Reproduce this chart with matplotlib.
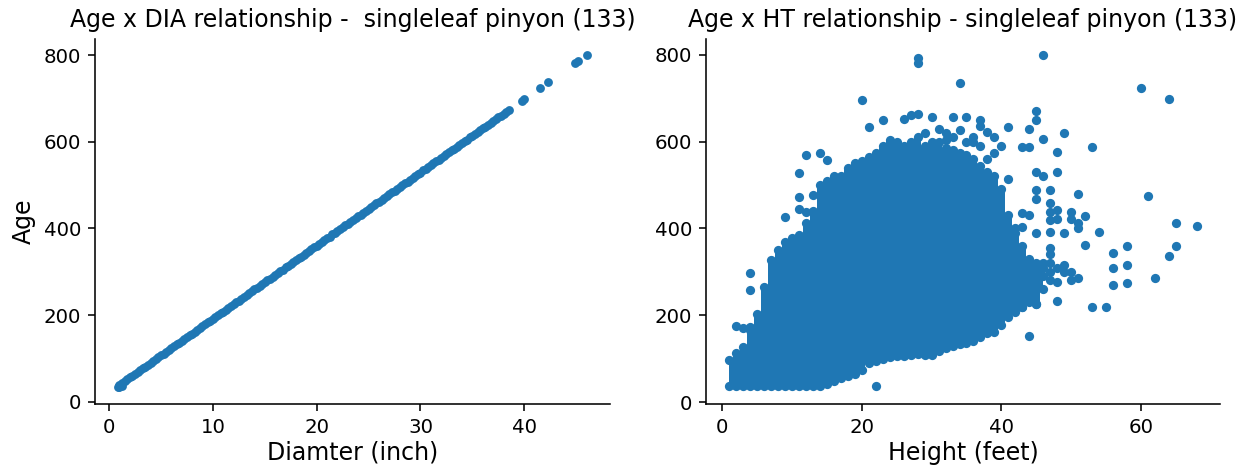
"""
Age vs diameter / height scatter for singleleaf pinyon (133)
"""
import matplotlib
matplotlib.use('Agg')
import matplotlib.pyplot as plt

BLUE = '#1f77b4'
DPI = 142

# --- left panel: diameter (inch) vs age ---
dia_vals = [1.0, 1.25, 1.5, 1.75, 2.0, 2.25, 2.5, 2.75, 3.0, 3.25, 3.5, 3.75, 4.0, 4.25, 4.5, 4.75,
            5.0, 5.25, 5.5, 5.75, 6.0, 6.25, 6.5, 6.75, 7.0, 7.25, 7.5, 7.75, 8.0, 8.25, 8.5, 8.75,
            9.0, 9.25, 9.5, 9.75, 10.0, 10.25, 10.5, 10.75, 11.0, 11.25, 11.5, 11.75, 12.0, 12.25, 12.5, 12.75,
            13.0, 13.25, 13.5, 13.75, 14.0, 14.25, 14.5, 14.75, 15.0, 15.25, 15.5, 15.75, 16.0, 16.25, 16.5, 16.75,
            17.0, 17.25, 17.5, 17.75, 18.0, 18.25, 18.5, 18.75, 19.0, 19.25, 19.5, 19.75, 20.0, 20.25, 20.5, 20.75,
            21.0, 21.25, 21.5, 21.75, 22.0, 22.25, 22.5, 22.75, 23.0, 23.25, 23.5, 23.75, 24.0, 24.25, 24.5, 24.75,
            25.0, 25.25, 25.5, 25.75, 26.0, 26.25, 26.5, 26.75, 27.0, 27.25, 27.5, 27.75, 28.0, 28.25, 28.5, 28.75,
            29.0, 29.25, 29.5, 29.75, 30.0, 30.25, 30.5, 30.75, 31.0, 31.25, 31.5, 31.75, 32.0, 32.25, 32.5, 32.75,
            33.0, 33.25, 33.5, 33.75, 34.0, 34.25, 34.5, 34.75, 35.0, 35.25, 35.5, 35.75, 36.0, 36.25, 36.5, 36.75,
            37.0, 37.25, 37.5, 37.75, 38.0, 38.25, 38.5,
            0.9, 1.0, 1.2, 39.8, 40.0, 41.5, 42.3, 44.9, 45.2, 46.0]
dia_ages = [39, 43, 47, 52, 56, 60, 64, 69, 73, 77, 81, 85, 90, 94, 98, 102,
            107, 111, 115, 119, 124, 128, 132, 136, 140, 145, 149, 153, 157, 162, 166, 170,
            174, 179, 183, 187, 191, 195, 200, 204, 208, 212, 217, 221, 225, 229, 233, 238,
            242, 246, 250, 255, 259, 263, 267, 272, 276, 280, 284, 288, 293, 297, 301, 305,
            310, 314, 318, 322, 327, 331, 335, 339, 343, 348, 352, 356, 360, 365, 369, 373,
            377, 381, 386, 390, 394, 398, 403, 407, 411, 415, 419, 424, 428, 432, 436, 441,
            445, 449, 453, 458, 462, 466, 470, 474, 479, 483, 487, 491, 496, 500, 504, 508,
            512, 517, 521, 525, 529, 534, 538, 542, 546, 551, 555, 559, 563, 567, 572, 576,
            580, 584, 589, 593, 597, 601, 605, 610, 614, 618, 622, 627, 631, 635, 639, 644,
            648, 652, 656, 660, 665, 669, 673,
            33, 33, 36, 693, 698, 724, 737, 781, 787, 800]

# --- right panel: height (feet) vs age ---
# dense part of the cloud, one column per height: lowest and highest age
ht_cols = [1, 2, 3, 4, 5, 6, 7, 8, 9, 10, 11, 12, 13, 14, 15, 16, 17, 18, 19, 20,
           21, 22, 23, 24, 25, 26, 27, 28, 29, 30, 31, 32, 33, 34, 35, 36, 37, 38,
           39, 40, 41, 42, 43, 44, 45, 46]
age_lo = [36, 36, 36, 36, 36, 36, 36, 36, 36, 36, 36, 36, 36, 38, 42, 48, 56, 60,
          65, 73, 90, 95, 100, 104, 106, 107, 108, 110, 108, 108, 118, 125, 130,
          134, 136, 140, 150, 158, 162, 177, 196, 208, 218, 230, 227, 260]
age_hi = [96, 112, 127, 173, 204, 265, 327, 350, 369, 378, 385, 412, 440, 500,
          510, 520, 520, 540, 550, 556, 565, 575, 590, 605, 600, 590, 600, 610,
          590, 600, 600, 585, 580, 575, 570, 560, 545, 530, 520, 490, 430, 400,
          360, 330, 320, 320]

# separate trees around the edge of the cloud
ht_pts = [2, 3, 4, 4, 4, 9, 11, 11, 11, 12, 12, 13, 14, 15, 20, 21, 22, 23, 26,
          27, 28, 28, 28, 29, 30, 31, 32, 33, 33, 34, 34, 35, 36, 37, 37, 38, 39,
          40, 41, 41, 41, 42, 43, 44, 44, 45, 45, 45, 46, 46, 46, 43, 43, 44, 45,
          45, 45, 44, 43, 44, 45, 48, 47, 47, 47, 47, 47, 47, 47, 48, 48, 48, 48,
          49, 49, 50, 50, 51, 51, 51, 52, 52, 53, 53, 54, 55, 56, 56, 56, 58, 58,
          58, 60, 61, 62, 64, 64, 65, 65, 68,
          46, 47, 47, 48, 48, 49, 50, 50, 51, 49, 47, 46,
          36, 37, 38, 39, 35, 32]
age_pts = [175, 170, 166, 298, 258, 427, 529, 473, 446, 438, 569, 477, 575, 558,
           696, 633, 38, 650, 653, 662, 665, 782, 792, 620, 656, 630, 620, 656,
           610, 628, 736, 656, 611, 650, 636, 622, 612, 590, 633, 515, 389, 389,
           588, 588, 630, 670, 650, 531, 521, 606, 800, 404, 435, 432, 488, 467,
           390, 152, 218, 243, 227, 233, 488, 459, 438, 419, 392, 355, 341, 442,
           421, 577, 531, 389, 621, 439, 423, 479, 412, 402, 362, 429, 587, 220,
           392, 220, 344, 309, 269, 359, 316, 275, 723, 476, 287, 336, 698, 412,
           359, 405,
           308, 320, 281, 277, 308, 316, 300, 281, 287, 300, 300, 290,
           600, 590, 560, 575, 600, 605]

fig = plt.figure(figsize=(1253 / DPI, 465 / DPI), dpi=DPI)
ax1 = fig.add_axes([95 / 1253, 61 / 465, 515 / 1253, 365.5 / 465])
ax2 = fig.add_axes([706 / 1253, 61 / 465, 514 / 1253, 365.5 / 465])

# Plot 1: age x diameter
ax1.scatter(dia_vals, dia_ages, s=20, color=BLUE, linewidths=0)
ax1.set_title('Age x DIA relationship -  singleleaf pinyon (133)', fontsize=12)
ax1.set_xlabel('Diamter (inch)', fontsize=12, labelpad=2)
ax1.set_ylabel('Age', fontsize=12)

# Plot 2: age x height (solid body of the cloud + trees at both ends of each column)
ax2.fill_between(ht_cols, age_lo, age_hi, step='mid', color=BLUE, linewidth=0)
ax2.scatter(ht_cols + ht_cols, age_lo + age_hi, s=22, color=BLUE, linewidths=0)
ax2.scatter(ht_pts, age_pts, s=22, color=BLUE, linewidths=0)
ax2.set_title('Age x HT relationship - singleleaf pinyon (133)', fontsize=12)
ax2.set_xlabel('Height (feet)', fontsize=12, labelpad=2)
ax2.set_xlim(-2.35, 71.35)
ax2.set_ylim(-4.6, 838)

for ax in (ax1, ax2):
    ax.spines['top'].set_visible(False)
    ax.spines['right'].set_visible(False)
    ax.set_yticks([0, 200, 400, 600, 800])
    ax.tick_params(labelsize=10)

ax1.set_xticks([0, 10, 20, 30, 40])
ax2.set_xticks([0, 20, 40, 60])

plt.savefig('out.png', dpi=DPI)
plt.close()
